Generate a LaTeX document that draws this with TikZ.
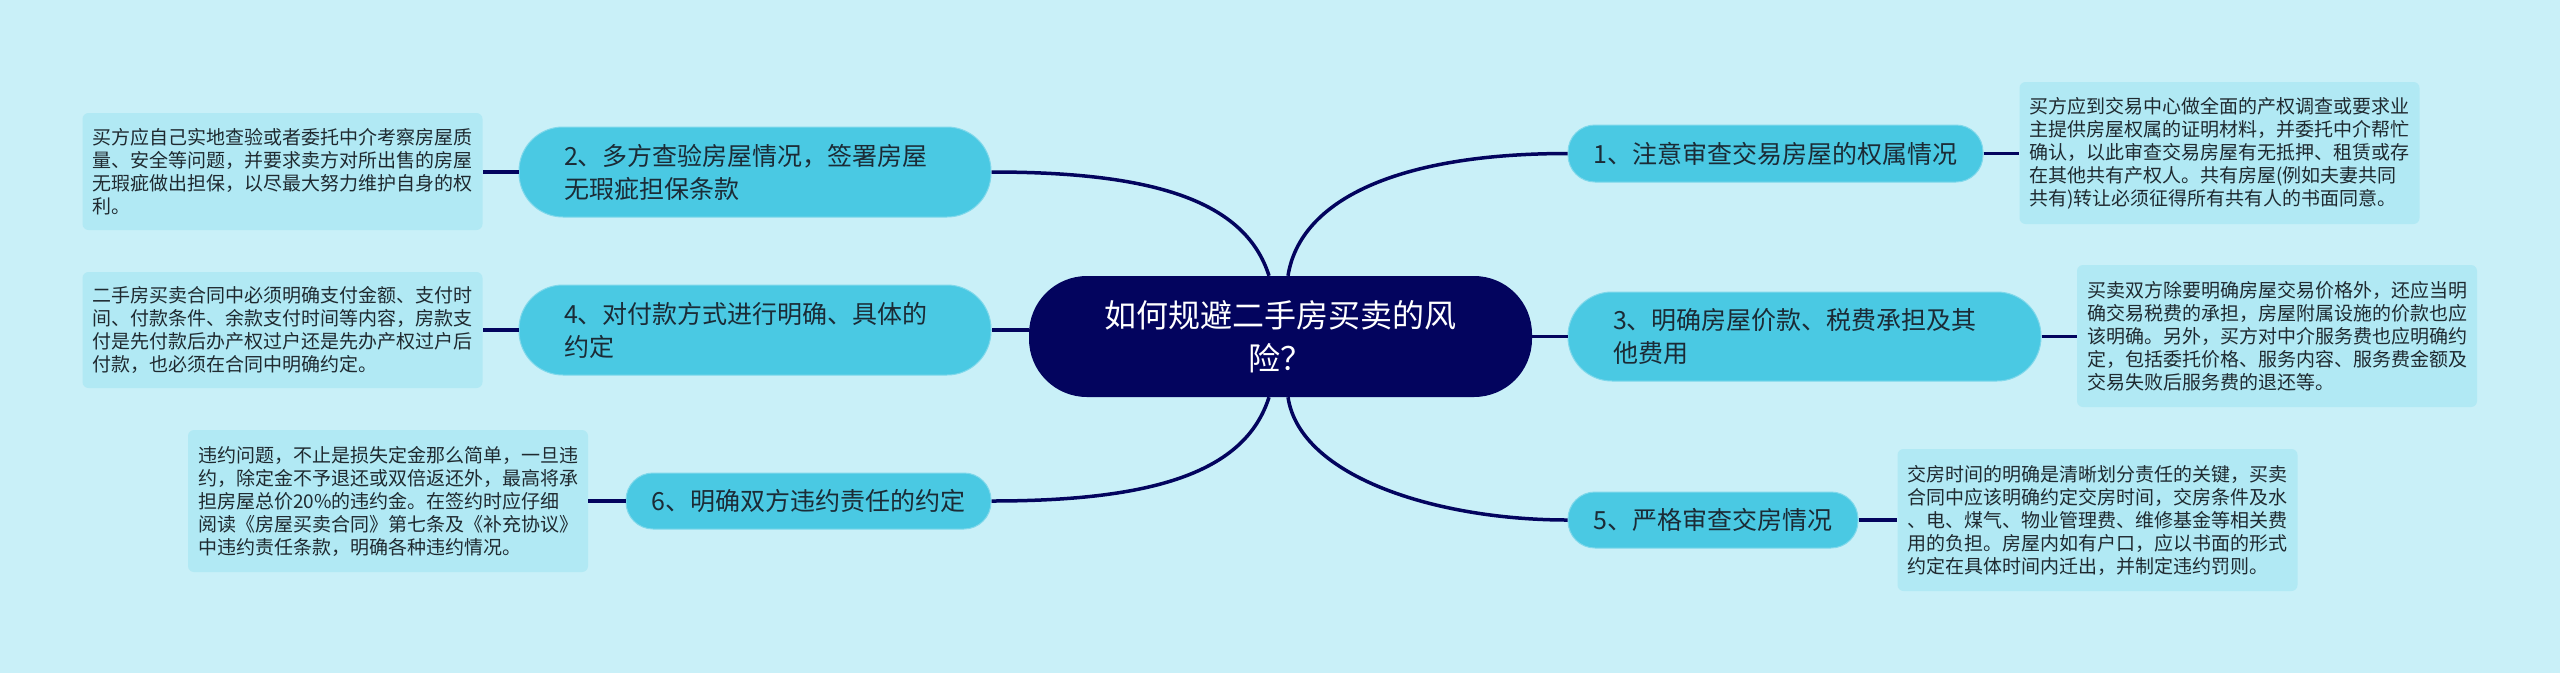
\documentclass[tikz,border=0pt]{standalone}
\usepackage{fontspec}
\setmainfont{Noto Sans CJK SC}
\definecolor{bgc}{HTML}{C9F0F8}
\definecolor{rootc}{HTML}{03045E}
\definecolor{linec}{HTML}{03045E}
\definecolor{topicc}{HTML}{4AC9E3}
\definecolor{topicb}{HTML}{7FD8EB}
\definecolor{topict}{HTML}{1B2B36}
\definecolor{notec}{HTML}{B1E9F4}
\definecolor{notet}{HTML}{1F2A30}
\begin{document}
\begin{tikzpicture}[x=1pt,y=-1pt,
  conn/.style={draw=linec, line width=3.5pt},
  root/.style={fill=rootc, text=white, rounded corners=58pt, minimum width=503pt, minimum height=121pt, font=\fontsize{32}{43}\selectfont, align=center, inner sep=0pt},
  topic/.style={fill=topicc, draw=topicb, line width=1pt, text=topict, font=\fontsize{25}{33}\selectfont, inner sep=0pt},
  note/.style={fill=notec, text=notet, rounded corners=6pt, font=\fontsize{19}{23}\selectfont, align=left, text width=380pt, inner xsep=10pt, inner ysep=0pt, minimum width=400pt},
]
\fill[bgc] (0,0) rectangle (2560,673);
\useasboundingbox (0,0) rectangle (2560,673);

% root
\node[root] (c) at (1280.5,336.5) {如何规避二手房买卖的风\\险？};

% topics
\node[topic, rounded corners=27pt, minimum width=415pt, minimum height=57pt, align=center] (n1) at (1775.5,153.5) {1、注意审查交易房屋的权属情况};
\node[topic, rounded corners=44pt, minimum width=472pt, minimum height=90pt, align=left, text width=382pt] (n2) at (755,172) {2、多方查验房屋情况，签署房屋\\无瑕疵担保条款};
\node[topic, rounded corners=44pt, minimum width=473pt, minimum height=89pt, align=left, text width=383pt] (n3) at (1804.5,336.5) {3、明确房屋价款、税费承担及其\\他费用};
\node[topic, rounded corners=44pt, minimum width=472pt, minimum height=90pt, align=left, text width=382pt] (n4) at (755,330) {4、对付款方式进行明确、具体的\\约定};
\node[topic, rounded corners=27pt, minimum width=290pt, minimum height=56pt, align=center] (n5) at (1713,520) {5、严格审查交房情况};
\node[topic, rounded corners=27pt, minimum width=365pt, minimum height=56pt, align=center] (n6) at (808.5,501) {6、明确双方违约责任的约定};

% notes
\node[note, minimum height=142pt] (b1) at (2219.5,153) {买方应到交易中心做全面的产权调查或要求业\\主提供房屋权属的证明材料，并委托中介帮忙\\确认，以此审查交易房屋有无抵押、租赁或存\\在其他共有产权人。共有房屋(例如夫妻共同\\共有)转让必须征得所有共有人的书面同意。};
\node[note, minimum height=117pt] (b2) at (282.5,171.5) {买方应自己实地查验或者委托中介考察房屋质\\量、安全等问题，并要求卖方对所出售的房屋\\无瑕疵做出担保，以尽最大努力维护自身的权\\利。};
\node[note, minimum height=142pt] (b3) at (2277,336) {买卖双方除要明确房屋交易价格外，还应当明\\确交易税费的承担，房屋附属设施的价款也应\\该明确。另外，买方对中介服务费也应明确约\\定，包括委托价格、服务内容、服务费金额及\\交易失败后服务费的退还等。};
\node[note, minimum height=116pt] (b4) at (282.5,330) {二手房买卖合同中必须明确支付金额、支付时\\间、付款条件、余款支付时间等内容，房款支\\付是先付款后办产权过户还是先办产权过户后\\付款，也必须在合同中明确约定。};
\node[note, minimum height=142pt] (b5) at (2097.5,520) {交房时间的明确是清晰划分责任的关键，买卖\\合同中应该明确约定交房时间，交房条件及水\\、电、煤气、物业管理费、维修基金等相关费\\用的负担。房屋内如有户口，应以书面的形式\\约定在具体时间内迁出，并制定违约罚则。};
\node[note, minimum height=142pt] (b6) at (388,501) {违约问题，不止是损失定金那么简单，一旦违\\约，除定金不予退还或双倍返还外，最高将承\\担房屋总价20\%的违约金。在签约时应仔细\\阅读《房屋买卖合同》第七条及《补充协议》\\中违约责任条款，明确各种违约情况。};

% root to topics
\draw[conn] ([xshift=7.5pt]c.north) .. controls +(12,-76) and +(-170,0) .. (n1.west);
\draw[conn] ([xshift=-11.5pt]c.north) .. controls +(-24,-76) and +(160,0) .. (n2.east);
\draw[conn] (n3.west -| c.east) -- (n3.west);
\draw[conn] (n4.east -| c.west) -- (n4.east);
\draw[conn] ([xshift=7.5pt]c.south) .. controls +(12,80) and +(-130,0) .. (n5.west);
\draw[conn] ([xshift=-11.5pt]c.south) .. controls +(-24,76) and +(160,0) .. (n6.east);

% topics to notes
\draw[conn] (n1.east) -- (b1.west |- n1.east);
\draw[conn] (n2.west) -- (b2.east |- n2.west);
\draw[conn] (n3.east) -- (b3.west |- n3.east);
\draw[conn] (n4.west) -- (b4.east |- n4.west);
\draw[conn] (n5.east) -- (b5.west |- n5.east);
\draw[conn] (n6.west) -- (b6.east |- n6.west);
\end{tikzpicture}
\end{document}
